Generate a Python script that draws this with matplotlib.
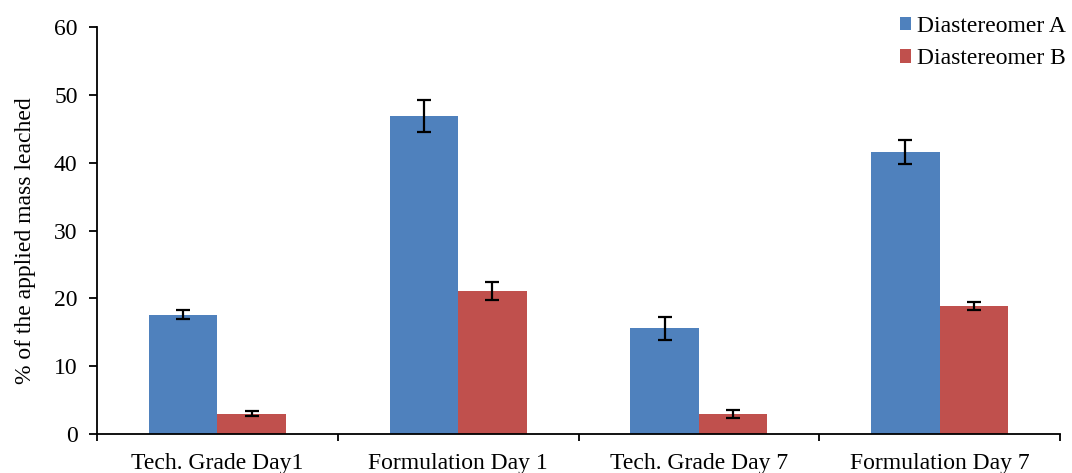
import numpy as np
import matplotlib.pyplot as plt
from matplotlib.ticker import FixedLocator

categories = ["Tech. Grade Day1", "Formulation Day 1", "Tech. Grade Day 7", "Formulation Day 7"]
diast_a = [17.6, 46.9, 15.6, 41.6]
diast_a_err = [0.65, 2.4, 1.7, 1.7]
diast_b = [3.0, 21.1, 2.95, 18.9]
diast_b_err = [0.35, 1.35, 0.55, 0.6]

plt.rcParams["font.family"] = ["Liberation Serif", "DejaVu Serif"]

fig = plt.figure(figsize=(10.72, 4.73), dpi=100)
ax = fig.add_axes([0.0905, 0.0825, 0.8983, 0.8598])

x = np.arange(len(categories))
w = 0.285
err_kw = dict(ecolor="black", elinewidth=1.6, capsize=5, capthick=1.6)
ax.bar(x - w / 2, diast_a, w, yerr=diast_a_err, color="#4F81BD",
       label="Diastereomer A", error_kw=err_kw)
ax.bar(x + w / 2, diast_b, w, yerr=diast_b_err, color="#C0504D",
       label="Diastereomer B", error_kw=err_kw)

ax.set_xlim(-0.5, len(categories) - 0.5)
ax.set_ylim(0, 60)
ax.set_yticks(range(0, 61, 10))
ax.set_xticks(x)
ax.set_xticklabels(categories)
ax.xaxis.set_minor_locator(FixedLocator(np.arange(-0.5, len(categories), 1.0)))
ax.tick_params(axis="x", which="major", length=0, pad=14, labelsize=17)
ax.tick_params(axis="x", which="minor", length=5, width=1.3, direction="out")
ax.tick_params(axis="y", length=6, width=1.3, direction="out", labelsize=17, pad=8)

for s in ["top", "right"]:
    ax.spines[s].set_visible(False)
for s in ["left", "bottom"]:
    ax.spines[s].set_linewidth(1.3)

ax.set_ylabel("% of the applied mass leached", fontsize=17)
ax.yaxis.set_label_coords(-0.063, 0.475)

fig.legend(loc="upper right", bbox_to_anchor=(0.999, 0.976), frameon=False,
           fontsize=17, handlelength=0.5, handleheight=0.5, handletextpad=0.25,
           labelspacing=0.47, borderpad=0.0, borderaxespad=0.2)

fig.savefig("out.png", dpi=100)
